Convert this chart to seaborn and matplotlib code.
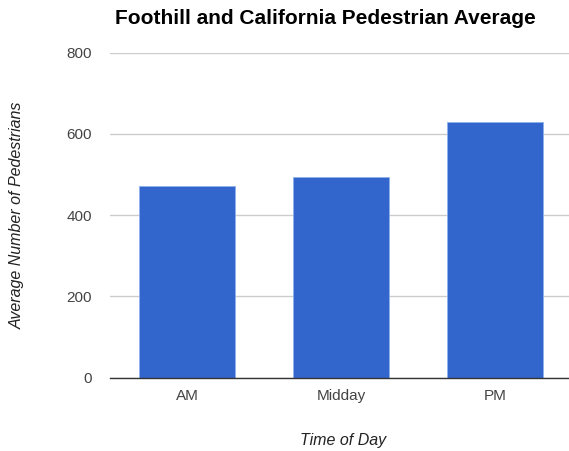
import pandas as pd
import seaborn as sns
import matplotlib.pyplot as plt

# values
periods = ["AM", "Midday", "PM"]
pedestrians = [473, 493, 629]

bar_color = "#3366CC"

df = pd.DataFrame({"Time of Day": periods, "Pedestrians": pedestrians})

sns.set_style("white")
plt.rcParams['font.family'] = ['Liberation Sans', 'DejaVu Sans']

fig = plt.figure(figsize=(5.69, 4.51), dpi=100)
ax = fig.add_axes([110 / 569, 0.1625, 459 / 569, 0.7206])

sns.barplot(data=df, x="Time of Day", y="Pedestrians", color=bar_color,
            saturation=1, width=0.623, edgecolor="#8fb0ee", linewidth=0.6, ax=ax)

ax.set_xlim(-0.503, 2.479)
ax.set_ylim(0, 800)
ax.set_yticks([0, 200, 400, 600, 800])
ax.yaxis.grid(True, color="#cccccc", linewidth=1)
ax.set_axisbelow(True)
for side in ["top", "right", "left"]:
    ax.spines[side].set_visible(False)
ax.spines["bottom"].set_color("#333333")
ax.spines["bottom"].set_linewidth(1)
ax.tick_params(axis="both", length=0, labelsize=11, colors="#444444")
ax.tick_params(axis="y", pad=13)
ax.tick_params(axis="x", pad=8)

ax.set_xlabel("")
ax.set_ylabel("")
fig.text(343 / 569, 1 - 440 / 451, "Time of Day", style="italic", fontsize=11.5,
         color="#222222", ha="center", va="center")
fig.text(17 / 569, 1 - 215 / 451, "Average Number of Pedestrians", style="italic",
         fontsize=11.5, color="#222222", ha="center", va="center", rotation=90)

# Title
fig.text(325 / 569, 1 - 18 / 451, "Foothill and California Pedestrian Average",
         fontsize=15, fontweight="bold", color="#000000", ha="center", va="center")

fig.savefig("out.png", dpi=100)
